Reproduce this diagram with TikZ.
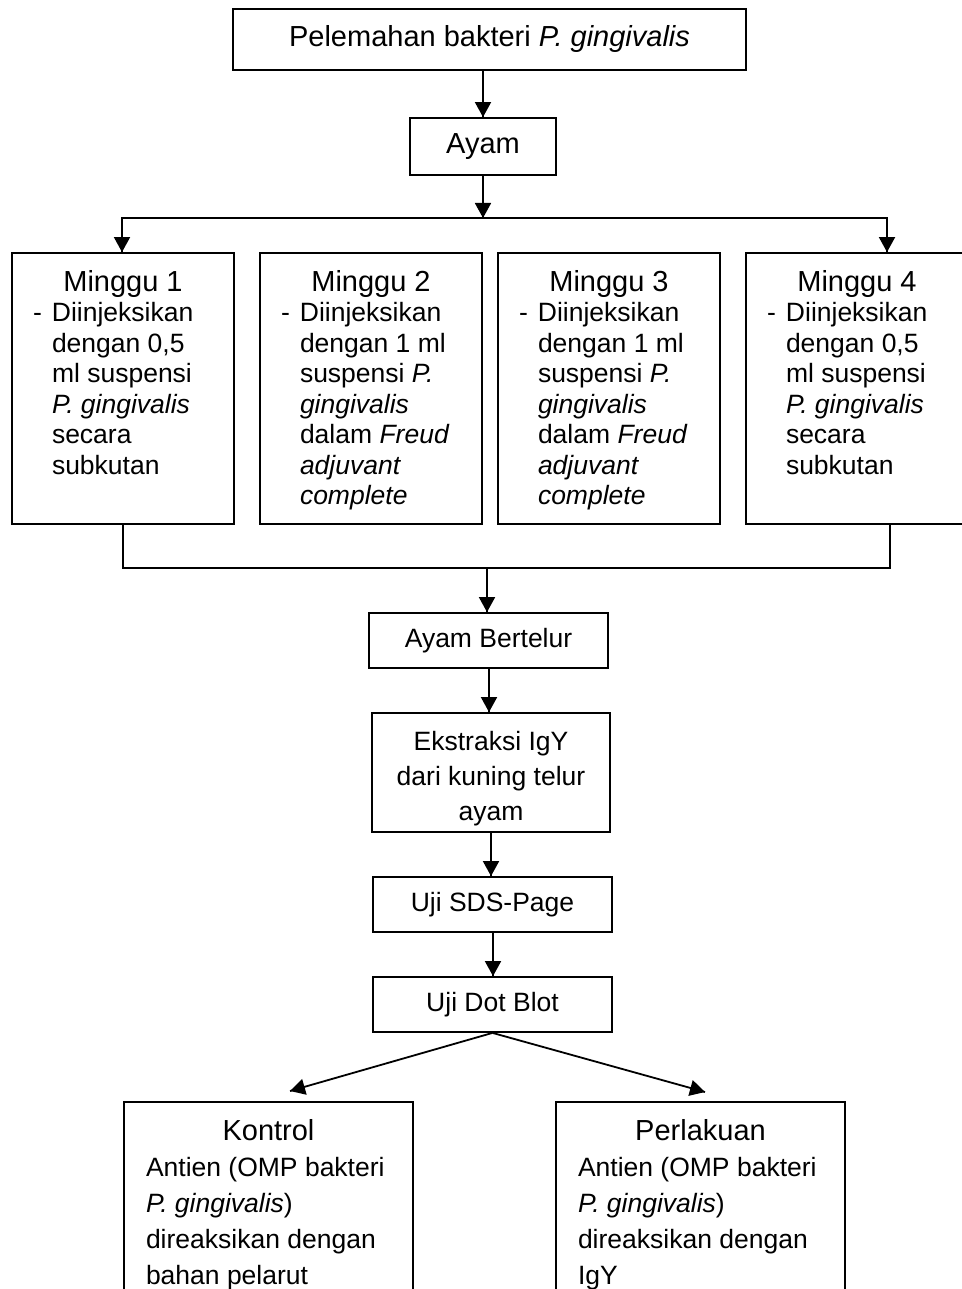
\documentclass[tikz,border=0pt]{standalone}
\usepackage{fontspec}
\setmainfont{Liberation Sans}
\usetikzlibrary{arrows.meta}
\usetikzlibrary{decorations.markings}
\newcommand{\hdfont}{\fontsize{14.5pt}{17pt}\selectfont}
\newcommand{\bdfont}{\fontsize{13.25pt}{15.25pt}\selectfont}
\newcommand{\minggu}[2]{\parbox[c][135.5pt][t]{111pt}{\centering\hdfont\rule{0pt}{19pt}Minggu #1\par
    \raggedright\bdfont\leftskip=20pt\leavevmode\llap{\makebox[9.5pt][l]{-}}#2\par}}
\newcommand{\hasil}[2]{\parbox[c][124.5pt][t]{144.5pt}{\centering\hdfont\rule{0pt}{19.5pt}#1\par
    \raggedright\fontsize{13.25pt}{18pt}\selectfont\leftskip=11pt #2\par}}
\tikzset{->/.style = {decoration={markings,
                                  mark=at position 1 with {\arrow{Triangle[width=8pt,length=7.5pt]}}},
                      postaction={decorate}}}
\tikzset{box/.style = {draw, inner sep=0pt}}

\begin{document}
\begin{tikzpicture}[x=0.5pt, y=-0.5pt, line width=0.9pt]
    \useasboundingbox (0, 0) rectangle (962, 1289);
    \node (start) [box, minimum width=256.5pt, minimum height=30.5pt, font=\hdfont] at (489.5, 39.5) {Pelemahan bakteri \textit{P. gingivalis}};
    \node (ayam) [box, minimum width=73pt, minimum height=28.5pt, font=\hdfont] at (483, 146.5) {Ayam};
    \node (w1) [box] at (123, 388.5) {\minggu{1}{Diinjeksikan\\dengan 0,5\\ml suspensi\\\textit{P. gingivalis}\\secara\\subkutan}};
    \node (w2) [box] at (371, 388.5) {\minggu{2}{Diinjeksikan\\dengan 1 ml\\suspensi \textit{P.}\\\textit{gingivalis}\\dalam \textit{Freud}\\\textit{adjuvant}\\\textit{complete}}};
    \node (w3) [box] at (609, 388.5) {\minggu{3}{Diinjeksikan\\dengan 1 ml\\suspensi \textit{P.}\\\textit{gingivalis}\\dalam \textit{Freud}\\\textit{adjuvant}\\\textit{complete}}};
    \node (w4) [box] at (857, 388.5) {\minggu{4}{Diinjeksikan\\dengan 0,5\\ml suspensi\\\textit{P. gingivalis}\\secara\\subkutan}};
    \node (bertelur) [box, minimum width=119.5pt, minimum height=27.5pt, font=\bdfont] at (488.5, 640.5) {Ayam Bertelur};
    \node (ekstraksi) [box] at (491, 772.5) {\parbox[c][59.5pt][t]{119pt}{\centering\fontsize{13.25pt}{17.5pt}\selectfont\rule{0pt}{18.5pt}Ekstraksi IgY\\dari kuning telur\\ayam}};
    \node (sds) [box, minimum width=119.5pt, minimum height=27.5pt, font=\bdfont] at (492.5, 904.5) {Uji SDS-Page};
    \node (dot) [box, minimum width=119.5pt, minimum height=27.5pt, font=\bdfont] at (492.5, 1004.5) {Uji Dot Blot};
    \node (kontrol) [box, anchor=north] at (268.5, 1101) {\hasil{Kontrol}{Antien (OMP bakteri\\\textit{P. gingivalis})\\direaksikan dengan\\bahan pelarut}};
    \node (perlakuan) [box, anchor=north] at (700.5, 1101) {\hasil{Perlakuan}{Antien (OMP bakteri\\\textit{P. gingivalis})\\direaksikan dengan\\IgY}};

    \coordinate (split) at (483, 218);
    \coordinate (merge) at (487, 568);
    \coordinate (kin) at (290, 1091);
    \coordinate (pin) at (705, 1092);

    \draw [->] (start.south -| ayam.north) -- (ayam.north);
    \draw [->] (ayam.south) -- (split);
    \draw [->] (split) -| ([xshift=-0.5pt]w1.north);
    \draw [->] (split) -| ([xshift=15pt]w4.north);
    \draw (w1.south) |- (merge);
    \draw ([xshift=16.5pt]w4.south) |- (merge);
    \draw [->] (merge) -- (merge |- bertelur.north);
    \draw [->] ([xshift=0.25pt]bertelur.south) -- ([xshift=0.25pt]bertelur.south |- ekstraksi.north);
    \draw [->] (ekstraksi.south) -- (ekstraksi.south |- sds.north);
    \draw [->] ([xshift=0.25pt]sds.south) -- ([xshift=0.25pt]dot.north);
    \draw [->] (dot.south) -- (kin);
    \draw [->] (dot.south) -- (pin);
  \end{tikzpicture}
\end{document}
